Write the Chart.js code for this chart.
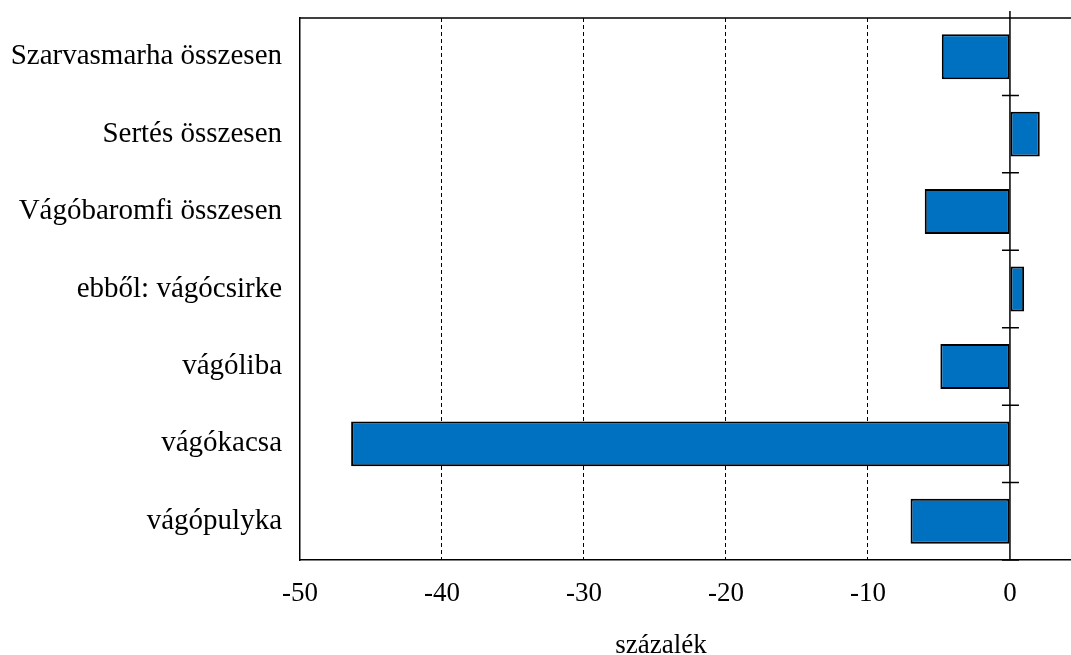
<!DOCTYPE html>
<html>
<head>
<meta charset="utf-8">
<script src="https://cdn.jsdelivr.net/npm/chart.js@4"></script>
<style>
  html, body { margin: 0; padding: 0; background: #fff; }
  #wrap { width: 1071px; height: 655px; position: relative; }
</style>
</head>
<body>
<div id="wrap"><canvas id="myChart"></canvas></div>
<script>
(() => {
  "use strict";

  const categories = [
    "Szarvasmarha összesen",
    "Sertés összesen",
    "Vágóbaromfi összesen",
    "ebből: vágócsirke",
    "vágóliba",
    "vágókacsa",
    "vágópulyka",
  ];
  const changes = [-4.8, 2.1, -6.0, 1.0, -4.9, -46.4, -7.0];
  const xTicks = [-50, -40, -30, -20, -10, 0];
  const axisTitle = "százalék";

  const serif = "'Liberation Serif', 'Times New Roman', serif";

  // frame, zero line and the little boundary ticks on it
  const framePlugin = {
    id: "frame",
    afterDatasetsDraw(chart) {
      const { ctx, chartArea: a, scales } = chart;
      const x0 = scales.x.getPixelForValue(0);
      const step = scales.y.getPixelForValue(1) - scales.y.getPixelForValue(0);
      ctx.save();
      ctx.strokeStyle = "#000";
      ctx.lineWidth = 1.5;
      ctx.beginPath();
      ctx.moveTo(a.left, a.top);
      ctx.lineTo(a.right, a.top);
      ctx.moveTo(x0, a.top - 7);
      ctx.lineTo(x0, a.bottom);
      for (let i = 0; i <= categories.length; i++) {
        const y = scales.y.getPixelForValue(i) - step / 2;
        ctx.moveTo(x0 - 8, y);
        ctx.lineTo(x0 + 9, y);
      }
      ctx.stroke();
      ctx.fillStyle = "#000";
      ctx.font = "27px " + serif;
      ctx.textAlign = "center";
      ctx.textBaseline = "alphabetic";
      ctx.fillText(axisTitle, 661, 653);
      ctx.restore();
    },
  };

  const ctx = document.getElementById("myChart");
  // eslint-disable-next-line no-unused-vars
  const myChart = new Chart(ctx, {
    type: "bar",
    data: {
      labels: categories,
      datasets: [
        {
          data: changes,
          backgroundColor: "#0070C0",
          borderColor: "#000",
          borderWidth: 2,
          borderSkipped: false,
          barPercentage: 0.58,
          categoryPercentage: 1,
        },
      ],
    },
    options: {
      indexAxis: "y",
      responsive: true,
      maintainAspectRatio: false,
      animation: false,
      layout: { padding: { top: 0, right: 0, left: 0, bottom: 0 } },
      plugins: {
        legend: { display: false },
        tooltip: { enabled: false },
      },
      scales: {
        x: {
          min: -50,
          max: 4.3,
          afterBuildTicks(scale) {
            scale.ticks = xTicks.map((v) => ({ value: v }));
          },
          afterFit(scale) {
            scale.height = 95;
          },
          grid: {
            drawTicks: false,
            lineWidth: 1,
            color: (c) =>
              c.tick && (c.tick.value === -50 || c.tick.value === 0)
                ? "rgba(0,0,0,0)"
                : "#000",
          },
          border: { display: true, color: "#000", width: 1.5, dash: [4, 3] },
          ticks: {
            color: "#000",
            padding: 18,
            font: { family: serif, size: 27 },
          },
        },
        y: {
          afterFit(scale) {
            scale.width = 300;
            scale.paddingTop = 18;
          },
          grid: { display: false, drawTicks: false },
          border: { display: true, color: "#000", width: 1.5 },
          ticks: {
            color: "#000",
            padding: 18,
            font: { family: serif, size: 29 },
          },
        },
      },
    },
    plugins: [framePlugin],
  });
})();
</script>
</body>
</html>
